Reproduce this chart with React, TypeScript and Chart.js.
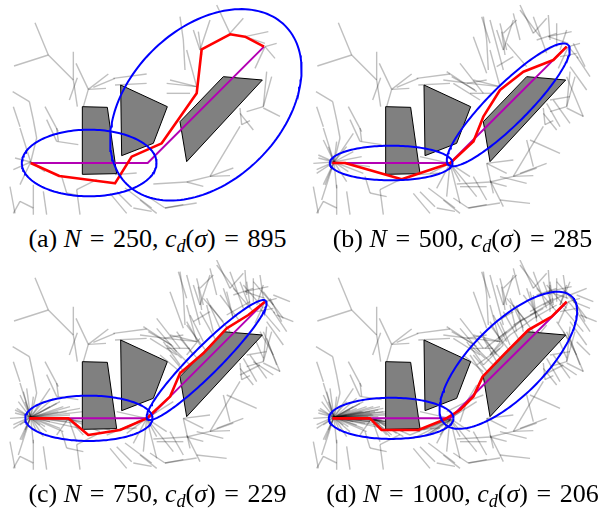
import React, { useEffect, useRef } from "react";
import { Chart, registerables } from "chart.js";
Chart.register(...registerables);

// ---------- data (units: 1/3 px, y grows downward; world = panel (a) frame) ----------
const panelLabels = ["a", "b", "c", "d"];
const sampleCounts = [250, 500, 750, 1000];
const pathCosts = [895, 285, 229, 206];

// obstacles in world coordinates
const obstacles = [
  [247, 320, 322, 322, 350, 521, 247, 523],
  [362, 255, 502, 320, 460, 430, 365, 467],
  [540, 365, 670, 230, 787, 240, 560, 485],
];

// shift of the world inside each panel
const panelShift = [[0, 0], [10, 0], [0, -15], [10, -15]];

// straight guide (start, corner, goal) per panel
const guideA = [92, 489, 443, 489, 792, 140];
const guideB = [97, 489, 450, 489, 800, 140];
const guideC = [88, 475, 445, 475, 795, 125];
const guideD = [97, 475, 450, 475, 800, 127];

// best path per panel
const pathA = [92, 489, 178, 528, 345, 550, 395, 470, 485, 430, 590, 280, 605, 148, 690, 103, 735, 110, 792, 140];
const pathB = [97, 489, 135, 489, 305, 538, 450, 490, 520, 425, 550, 350, 600, 270, 670, 215, 760, 180, 800, 140];
const pathC = [88, 475, 205, 475, 265, 525, 360, 510, 440, 475, 510, 410, 540, 340, 610, 280, 680, 205, 745, 165, 795, 125];
const pathD = [97, 475, 210, 475, 245, 510, 355, 510, 430, 480, 480, 450, 520, 410, 548, 350, 615, 280, 685, 210, 755, 170, 800, 125];

// ellipses: focus1 x,y, focus2 x,y, semi-major axis
const ellipsesA = [[92, 489, 443, 489, 202], [443, 489, 792, 140, 336]];
const ellipsesB = [[97, 489, 450, 489, 184], [450, 489, 800, 140, 254]];
const ellipsesC = [[88, 475, 445, 475, 191], [445, 475, 795, 125, 251]];
const ellipsesD = [[97, 475, 450, 475, 187], [450, 475, 800, 127, 270]];

// tree edges (world) x1,y1,x2,y2
const baseEdges = [
  [105, 68, 145, 165], [145, 165, 42, 198], [145, 165, 220, 240], [220, 155, 220, 240],
  [220, 240, 232, 320], [228, 190, 265, 268], [265, 268, 325, 222], [265, 268, 318, 265],
  [265, 268, 250, 320], [232, 233, 208, 300], [280, 262, 345, 235], [340, 235, 440, 222],
  [345, 255, 440, 250], [38, 275, 88, 305], [88, 305, 100, 360], [100, 360, 110, 414],
  [110, 414, 92, 486], [60, 384, 92, 486], [135, 320, 175, 395], [140, 359, 170, 424],
  [170, 424, 235, 434], [170, 384, 175, 424], [92, 486, 40, 509], [92, 486, 45, 474],
  [92, 486, 60, 554], [92, 486, 135, 515], [100, 554, 100, 644], [60, 604, 100, 624],
  [130, 574, 140, 644], [185, 529, 200, 579], [200, 579, 250, 590], [230, 569, 240, 644],
  [230, 569, 290, 539], [345, 524, 410, 519], [375, 564, 455, 624], [400, 624, 455, 634],
  [350, 575, 395, 620], [725, 374, 720, 324], [725, 374, 750, 362], [720, 379, 630, 529],
  [630, 529, 700, 504], [630, 529, 690, 527], [630, 529, 560, 546], [560, 546, 610, 559],
  [560, 546, 460, 552], [790, 324, 840, 349], [495, 624, 550, 614], [495, 624, 590, 609],
  [450, 594, 495, 624], [540, 50, 550, 120], [550, 120, 555, 210], [580, 90, 600, 150],
  [595, 95, 605, 165], [630, 60, 600, 150], [560, 150, 590, 260], [590, 260, 500, 250],
  [590, 260, 510, 240], [570, 280, 500, 280], [650, 15, 690, 100], [690, 100, 730, 55],
  [735, 110, 805, 95], [735, 110, 795, 130], [795, 140, 825, 175], [795, 140, 830, 130],
  [795, 140, 765, 205], [800, 215, 790, 320], [790, 320, 815, 230], [790, 320, 740, 335],
  [720, 340, 760, 390], [30, 560, 45, 640], [60, 604, 40, 640], [330, 580, 380, 640],
  [420, 600, 470, 640], [40, 320, 60, 380],
];

// fans (world): hub x,y then endpoints
const midFans = [
  [92, 486, 40, 520, 45, 465, 60, 420, 75, 440, 100, 425, 130, 440, 150, 455, 175, 470, 200, 500, 180, 520, 130, 545, 100, 565, 65, 555, 150, 400, 30, 490, 55, 600],
  [440, 490, 380, 520, 400, 565, 430, 590, 470, 545, 500, 530, 470, 610, 410, 500, 350, 470, 520, 590],
];
const midEdges = [
  [430, 215, 520, 275], [445, 230, 515, 270], [420, 240, 500, 250], [470, 190, 540, 280],
  [510, 110, 550, 220], [535, 50, 560, 130], [560, 60, 600, 210], [590, 70, 610, 150],
  [630, 40, 650, 120], [650, 30, 710, 110], [690, 50, 730, 160], [735, 45, 740, 120],
  [760, 70, 760, 140], [790, 90, 770, 150], [810, 130, 845, 200], [800, 200, 850, 270],
  [790, 230, 840, 350], [750, 300, 800, 370], [730, 310, 770, 380], [720, 310, 750, 250],
  [770, 170, 820, 160], [680, 180, 750, 140], [610, 130, 670, 200], [580, 200, 630, 170],
  [490, 250, 550, 240], [450, 250, 530, 300], [600, 100, 640, 60], [700, 120, 760, 100],
  [740, 300, 800, 290], [820, 170, 860, 230], [550, 490, 630, 480], [550, 490, 610, 520],
  [550, 490, 570, 580], [510, 530, 550, 600], [590, 530, 670, 550], [670, 420, 690, 500],
  [680, 420, 770, 460], [650, 520, 730, 490], [470, 560, 550, 560], [590, 600, 680, 610],
  [560, 540, 600, 620],
];

const lateFans = [
  [92, 488, 200, 470, 210, 480, 220, 495, 230, 505, 190, 455, 170, 445, 240, 460, 150, 500, 120, 510, 60, 510, 50, 460, 70, 410],
  [92, 488, 180, 440, 160, 430, 210, 455, 250, 470, 260, 500, 240, 520, 190, 530, 140, 530, 110, 530, 75, 525, 55, 440, 80, 400],
  [205, 490, 265, 540, 300, 530, 330, 525, 250, 540, 170, 540, 230, 560],
  [440, 490, 360, 525, 380, 535, 320, 540, 470, 470, 520, 440],
];
const lateEdges = [
  [510, 300, 560, 360], [520, 280, 570, 330], [540, 250, 600, 320], [560, 210, 620, 290],
  [600, 170, 650, 260], [630, 150, 690, 230], [660, 120, 720, 200], [700, 100, 760, 170],
  [730, 90, 790, 160], [760, 80, 820, 150], [790, 110, 850, 190], [780, 160, 840, 230],
  [560, 300, 600, 250], [600, 270, 560, 200], [640, 230, 620, 150], [700, 190, 680, 110],
  [750, 150, 740, 80], [490, 260, 540, 330], [470, 220, 530, 290], [800, 250, 830, 330],
  [760, 320, 820, 360], [720, 360, 780, 330],
  [480, 300, 540, 350], [500, 270, 545, 310], [530, 230, 580, 300], [570, 180, 610, 260],
  [620, 130, 660, 220], [670, 100, 700, 190], [720, 80, 750, 160], [780, 60, 790, 130],
  [820, 120, 870, 140], [830, 180, 880, 200], [780, 230, 820, 300], [760, 240, 790, 310],
];

const denseFans = [
  [92, 488, 205, 478, 215, 470, 225, 485, 235, 495, 245, 480, 200, 500, 185, 505, 240, 470, 230, 455, 160, 460, 140, 465, 180, 470],
  [92, 488, 250, 490, 255, 475, 225, 465, 195, 485, 175, 495, 160, 510, 265, 500, 220, 510, 130, 480, 120, 495],
  [210, 490, 280, 535, 320, 540, 350, 530, 300, 545, 260, 545],
  [440, 495, 380, 540, 360, 545, 410, 540, 330, 550],
  [490, 440, 430, 470, 520, 390, 470, 500, 540, 420],
];
const denseEdges = [
  [540, 330, 600, 270], [560, 300, 620, 240], [580, 260, 650, 200], [620, 240, 690, 190],
  [650, 200, 720, 160], [690, 190, 760, 150], [540, 360, 500, 300], [580, 320, 540, 250],
  [620, 270, 590, 200], [660, 230, 640, 150], [700, 200, 690, 120], [740, 170, 740, 90],
  [770, 150, 800, 80], [810, 140, 860, 160], [800, 120, 850, 100], [760, 200, 800, 260],
  [820, 260, 860, 300],
  [520, 330, 590, 280], [545, 280, 610, 230], [585, 250, 660, 190], [630, 210, 700, 170],
  [680, 170, 750, 130], [720, 150, 780, 120], [600, 330, 640, 280], [640, 300, 680, 240],
  [690, 260, 730, 210],
];

const guides = [guideA, guideB, guideC, guideD];
const paths = [pathA, pathB, pathC, pathD];
const ellipses = [ellipsesA, ellipsesB, ellipsesC, ellipsesD];

// ---------- helpers ----------
const toPts = (flat: number[], dx = 0, dy = 0) => {
  const out: { x: number; y: number }[] = [];
  for (let i = 0; i < flat.length; i += 2) out.push({ x: flat[i] + dx, y: flat[i + 1] + dy });
  return out;
};

const fanToEdges = (fans: number[][]) => {
  const out: number[][] = [];
  fans.forEach((f) => {
    for (let i = 2; i < f.length; i += 2) out.push([f[0], f[1], f[i], f[i + 1]]);
  });
  return out;
};

const ellipseOutline = (e: number[]) => {
  const [x1, y1, x2, y2, a] = e;
  const cx = (x1 + x2) / 2, cy = (y1 + y2) / 2;
  const c = Math.hypot(x2 - x1, y2 - y1) / 2;
  const b = Math.sqrt(Math.max(a * a - c * c, 1));
  const th = Math.atan2(y2 - y1, x2 - x1);
  const pts: { x: number; y: number }[] = [];
  const n = 160;
  for (let i = 0; i <= n; i++) {
    const t = (i / n) * Math.PI * 2;
    const ex = a * Math.cos(t), ey = b * Math.sin(t);
    pts.push({ x: cx + ex * Math.cos(th) - ey * Math.sin(th), y: cy + ex * Math.sin(th) + ey * Math.cos(th) });
  }
  return pts;
};

function edgesForPanel(i: number) {
  let e = [...baseEdges];
  if (i >= 1) e = e.concat(midEdges, fanToEdges(midFans));
  if (i >= 2) e = e.concat(lateEdges, fanToEdges(lateFans));
  if (i >= 3) e = e.concat(denseEdges, fanToEdges(denseFans));
  return e;
}

function buildDatasets(i: number) {
  const [dx, dy] = panelShift[i];
  const ds: any[] = [];
  edgesForPanel(i).forEach((s) => {
    ds.push({
      data: toPts(s, dx, dy), showLine: true, borderColor: "rgba(0,0,0,0.25)", borderWidth: 1.4,
      pointRadius: 0, order: 5, fill: false,
    });
  });
  obstacles.forEach((o) => {
    ds.push({
      data: toPts([...o, o[0], o[1]], dx, dy), showLine: true, borderColor: "#000", borderWidth: 1,
      backgroundColor: "#808080", fill: "shape", pointRadius: 0, order: 4,
    });
  });
  ds.push({
    data: toPts(guides[i]), showLine: true, borderColor: "#b400b4", borderWidth: 2,
    pointRadius: 0, order: 3, fill: false,
  });
  ds.push({
    data: toPts(paths[i]), showLine: true, borderColor: "#ff0000", borderWidth: 2.6,
    borderJoinStyle: "round", pointRadius: 0, order: 2, fill: false,
  });
  ellipses[i].forEach((e) => {
    ds.push({
      data: ellipseOutline(e), showLine: true, borderColor: "#0000ff", borderWidth: 2,
      pointRadius: 0, order: 1, fill: false,
    });
  });
  return ds;
}

const PANEL_W = 303, PANEL_H = 220;
const panelPos = [[0, 0], [300, 0], [0, 260], [300, 260]];

function Panel({ index }: { index: number }) {
  const ref = useRef<HTMLCanvasElement>(null);
  useEffect(() => {
    if (!ref.current) return;
    const chart = new Chart(ref.current, {
      type: "scatter",
      data: { datasets: buildDatasets(index) },
      options: {
        animation: false,
        responsive: false,
        events: [],
        layout: { padding: 0 },
        plugins: { legend: { display: false }, tooltip: { enabled: false } },
        scales: {
          x: { type: "linear", min: 0, max: PANEL_W * 3, display: false },
          y: { type: "linear", min: 0, max: PANEL_H * 3, reverse: true, display: false },
        },
      } as any,
    });
    return () => chart.destroy();
  }, [index]);
  const [l, t] = panelPos[index];
  return (
    <canvas
      ref={ref}
      width={PANEL_W}
      height={PANEL_H}
      style={{ position: "absolute", left: l, top: t, width: PANEL_W, height: PANEL_H }}
    />
  );
}

const eqStyle = { margin: "0 0.33em" };

function Caption({ index }: { index: number }) {
  const left = index % 2 === 0 ? 6 : 311;
  const top = index < 2 ? 225 : 480;
  return (
    <div
      style={{
        position: "absolute", left, top, width: 303, textAlign: "center",
        fontFamily: "'Liberation Serif', 'DejaVu Serif', serif", fontSize: 26, lineHeight: "28px",
        color: "#000", whiteSpace: "nowrap",
      }}
    >
      ({panelLabels[index]}) <i>N</i><span style={eqStyle}>=</span>{sampleCounts[index]}, <i>c</i>
      <sub style={{ fontSize: "0.7em", verticalAlign: "-0.25em", lineHeight: 0 }}><i>d</i></sub>
      (<i>σ</i>)<span style={eqStyle}>=</span>{pathCosts[index]}
    </div>
  );
}

export default function App() {
  return (
    <div style={{ position: "fixed", left: 0, top: 0, width: 605, height: 513, background: "#fff", overflow: "hidden" }}>
      {[0, 1, 2, 3].map((i) => (
        <Panel key={"p" + i} index={i} />
      ))}
      {[0, 1, 2, 3].map((i) => (
        <Caption key={"c" + i} index={i} />
      ))}
    </div>
  );
}
